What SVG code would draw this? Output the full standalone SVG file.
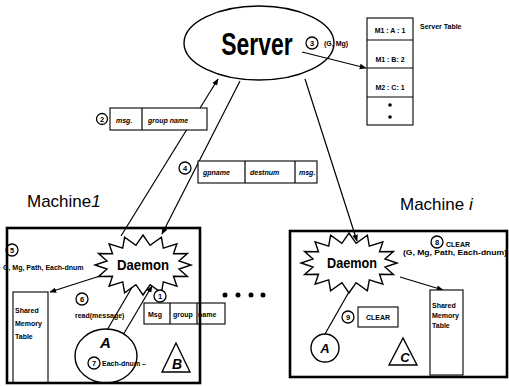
<svg xmlns="http://www.w3.org/2000/svg" width="509" height="386" viewBox="0 0 509 386">
<style>
  text { font-family: "Liberation Sans", Arial, sans-serif; fill: #000; }
  .b { font-weight: bold; }
  .s { font-size: 7px; font-weight: bold; }
  .ln { stroke: #000; stroke-width: 1.2; fill: none; }
  .bx { stroke: #000; stroke-width: 1.1; fill: #fff; }
  .frame { stroke: #000; stroke-width: 2.6; fill: none; }
  .cn { stroke: #000; stroke-width: 1.3; fill: #fff; }
  .num { font-size: 7.5px; font-weight: bold; text-anchor: middle; }
  .lbl { font-size: 17px; }
  .dm { font-size: 14px; font-weight: bold; text-anchor: middle; }
</style>
<defs>
  <marker id="ah" viewBox="0 0 10 10" refX="9" refY="5" markerWidth="7" markerHeight="7" orient="auto" markerUnits="userSpaceOnUse">
    <path d="M0,1 L10,5 L0,9 Z" fill="#000"/>
  </marker>
  <polygon id="star" points="48,0 36,4.1 44.4,11.5 30.5,11.2 33.9,21.2 20.3,16.8 18.4,27.7 7.1,19.7 0,30 -7.1,19.7 -18.4,27.7 -20.3,16.8 -33.9,21.2 -30.5,11.2 -44.4,11.5 -36,4.1 -48,0 -36,-4.1 -44.4,-11.5 -30.5,-11.2 -33.9,-21.2 -20.3,-16.8 -18.4,-27.7 -7.1,-19.7 0,-30 7.1,-19.7 18.4,-27.7 20.3,-16.8 33.9,-21.2 30.5,-11.2 44.4,-11.5 36,-4.1" fill="#fff" stroke="#000" stroke-width="1.4"/>
</defs>
<rect width="509" height="386" fill="#fff"/>

<g id="server">
  <ellipse cx="259" cy="43" rx="75" ry="37" fill="#fff" stroke="#000" stroke-width="1.4"/>
  <text transform="translate(257,55) scale(0.74,1)" class="b" font-size="31" text-anchor="middle">Server</text>
  <circle cx="312" cy="43" r="6" class="cn"/>
  <text x="312" y="46" class="num">3</text>
  <text x="324" y="46" class="s">(G, Mg)</text>
</g>

<g id="server-table">
  <rect x="367" y="18" width="46" height="107" class="bx" stroke-width="1.4"/>
  <line x1="367" y1="40" x2="413" y2="40" class="ln"/>
  <line x1="367" y1="68" x2="413" y2="68" class="ln"/>
  <line x1="367" y1="97" x2="413" y2="97" class="ln"/>
  <text x="390" y="33" class="s" text-anchor="middle">M1 : A : 1</text>
  <text x="390" y="62" class="s" text-anchor="middle">M1 : B: 2</text>
  <text x="390" y="90" class="s" text-anchor="middle">M2 : C: 1</text>
  <circle cx="390" cy="105" r="1.8" fill="#000"/>
  <circle cx="390" cy="117" r="1.8" fill="#000"/>
  <text x="420" y="29" class="s">Server Table</text>
</g>

<g id="connectors">
  <line x1="302" y1="52" x2="366" y2="68" class="ln" marker-end="url(#ah)"/>
  <line x1="121" y1="236" x2="218" y2="79" class="ln" marker-end="url(#ah)"/>
  <line x1="240" y1="81" x2="162" y2="234" class="ln" marker-end="url(#ah)"/>
  <line x1="305" y1="79" x2="357" y2="241" class="ln" marker-end="url(#ah)"/>
  <line x1="100" y1="276" x2="50" y2="292" class="ln" marker-end="url(#ah)"/>
  <line x1="134" y1="284" x2="103" y2="337" class="ln" marker-end="url(#ah)"/>
  <line x1="123" y1="335" x2="152" y2="286" class="ln" marker-end="url(#ah)"/>
  <line x1="400" y1="277" x2="443" y2="290" class="ln" marker-end="url(#ah)"/>
  <line x1="325" y1="334" x2="358" y2="276" class="ln" marker-end="url(#ah)"/>
</g>

<g id="msg2">
  <circle cx="102" cy="119" r="5.5" class="cn"/>
  <text x="102" y="122" class="num">2</text>
  <rect x="110" y="108" width="97" height="22" class="bx" fill="none"/>
  <line x1="142" y1="108" x2="142" y2="130" class="ln"/>
  <text x="116" y="123" class="s" font-style="italic">msg.</text>
  <text x="148" y="123" class="s" font-style="italic">group name</text>
</g>

<g id="msg4">
  <circle cx="185" cy="168" r="6" class="cn"/>
  <text x="185" y="171" class="num">4</text>
  <rect x="198" y="161" width="119" height="22" class="bx"/>
  <line x1="245" y1="161" x2="245" y2="183" class="ln"/>
  <line x1="295" y1="161" x2="295" y2="183" class="ln"/>
  <text x="203" y="175" class="s" font-style="italic">gpname</text>
  <text x="250" y="175" class="s" font-style="italic">destnum</text>
  <text x="299" y="175" class="s" font-style="italic">msg.</text>
</g>

<g id="machine1-label">
  <text x="27" y="207" class="lbl">Machine<tspan font-style="italic">1</tspan></text>
</g>
<g id="machinei-label">
  <text x="400" y="210" class="lbl">Machine <tspan font-style="italic">i</tspan></text>
</g>

<g id="m1-daemon">
  <use href="#star" x="143" y="265"/>
  <text x="143" y="270" class="dm" textLength="52" lengthAdjust="spacingAndGlyphs">Daemon</text>
</g>
<g id="m1-note5">
  <circle cx="12" cy="250" r="6" class="cn"/>
  <text x="12" y="253" class="num">5</text>
  <text x="3" y="270" class="s">G, Mg, Path, Each-dnum</text>
</g>
<g id="m1-shm">
  <rect x="13" y="292" width="35" height="91" class="bx"/>
  <text x="15" y="313" class="s">Shared</text>
  <text x="15" y="326" class="s">Memory</text>
  <text x="15" y="339" class="s">Table</text>
</g>
<g id="m1-read">
  <circle cx="82" cy="299" r="6" class="cn"/>
  <text x="82" y="302" class="num">6</text>
  <text x="75" y="318" class="s">read(message)</text>
</g>
<g id="m1-msg1">
  <circle cx="160" cy="296" r="6" class="cn"/>
  <text x="160" y="299" class="num">1</text>
  <rect x="144" y="303" width="81" height="21" class="bx"/>
  <line x1="170" y1="303" x2="170" y2="324" class="ln"/>
  <line x1="197" y1="303" x2="197" y2="324" class="ln"/>
  <text x="148" y="317" class="s">Msg</text>
  <text x="173" y="317" class="s">group</text>
  <text x="198" y="317" class="s">name</text>
</g>
<g id="m1-A">
  <ellipse cx="106" cy="356" rx="31" ry="27" fill="#fff" stroke="#000" stroke-width="1.4"/>
  <text x="100" y="348" class="b" font-size="15" font-style="italic">A</text>
  <circle cx="94" cy="363" r="6" class="cn"/>
  <text x="94" y="366" class="num">7</text>
  <text x="102" y="366" class="s">Each-dnum –</text>
</g>
<g id="m1-B">
  <polygon points="176,343 162,372 190,372" fill="#fff" stroke="#000" stroke-width="1.4"/>
  <text x="177" y="369" class="b" font-size="14" font-style="italic" text-anchor="middle">B</text>
</g>
<g id="machine1">
  <rect x="7" y="228" width="193" height="155" class="frame"/>
</g>

<g id="dots">
  <circle cx="225" cy="295" r="2.5" fill="#000"/>
  <circle cx="238" cy="295" r="2.5" fill="#000"/>
  <circle cx="251" cy="295" r="2.5" fill="#000"/>
  <circle cx="263" cy="295" r="2.5" fill="#000"/>
</g>

<g id="mi-daemon">
  <use href="#star" x="349" y="263"/>
  <text x="352" y="268" class="dm" textLength="50" lengthAdjust="spacingAndGlyphs">Daemon</text>
</g>
<g id="mi-note8">
  <circle cx="437" cy="242" r="6" class="cn"/>
  <text x="437" y="245" class="num">8</text>
  <text x="446" y="247" class="s">CLEAR</text>
  <text x="403" y="255" class="s" textLength="104" lengthAdjust="spacingAndGlyphs">(G, Mg, Path, Each-dnum)</text>
</g>
<g id="mi-shm">
  <rect x="430" y="290" width="33" height="85" class="bx"/>
  <text x="432" y="308" class="s">Shared</text>
  <text x="432" y="318" class="s">Memory</text>
  <text x="432" y="328" class="s">Table</text>
</g>
<g id="mi-clear9">
  <circle cx="348" cy="317" r="6" class="cn"/>
  <text x="348" y="320" class="num">9</text>
  <rect x="358" y="307" width="40" height="20" class="bx"/>
  <text x="378" y="320" class="s" text-anchor="middle">CLEAR</text>
</g>
<g id="mi-A">
  <circle cx="325" cy="348" r="14" fill="#fff" stroke="#000" stroke-width="1.4"/>
  <text x="325" y="353" class="b" font-size="13" font-style="italic" text-anchor="middle">A</text>
</g>
<g id="mi-C">
  <polygon points="403,338 389,365 417,365" fill="#fff" stroke="#000" stroke-width="1.4"/>
  <text x="405" y="362" class="b" font-size="13" font-style="italic" text-anchor="middle">C</text>
</g>
<g id="machinei">
  <rect x="290" y="231" width="217" height="146" class="frame"/>
</g>
</svg>
